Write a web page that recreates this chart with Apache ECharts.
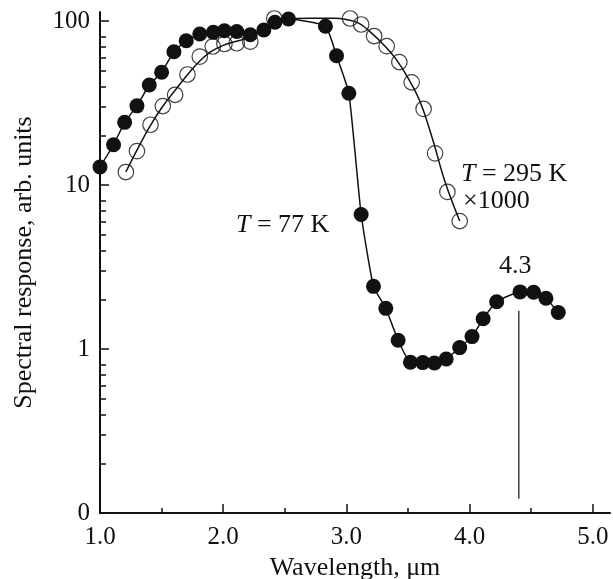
<!DOCTYPE html>
<html><head><meta charset="utf-8">
<script src="https://cdn.jsdelivr.net/npm/echarts@6/dist/echarts.min.js"></script>
<style>html,body{margin:0;padding:0;background:#fff}#c{width:613px;height:579px}</style>
</head><body><div id="c"></div>
<script>
// T = 77 K (filled circles)
const wl77 = [1.00,1.11,1.20,1.30,1.40,1.50,1.60,1.70,1.81,1.92,2.01,2.11,2.22,2.33,2.42,2.53,2.83,2.92,3.02,3.12,3.22,3.32,3.42,3.52,3.62,3.715,3.81,3.92,4.02,4.11,4.22,4.41,4.52,4.62,4.72];
const resp77 = [12.9,17.6,24.1,30.4,40.7,48.7,65.0,75.8,83.3,85.3,87.3,86.3,82.5,88.2,98.2,102.9,93.0,61.4,36.3,6.61,2.41,1.77,1.13,0.83,0.826,0.821,0.869,1.02,1.19,1.53,1.94,2.23,2.22,2.04,1.67];
// T = 295 K x1000 (open circles)
const wl295 = [1.21,1.30,1.41,1.51,1.61,1.71,1.81,1.915,2.01,2.11,2.22,2.415,3.03,3.12,3.225,3.327,3.43,3.53,3.627,3.72,3.82,3.92];
const resp295 = [12.0,16.1,23.3,30.3,35.5,47.2,60.7,69.9,72.4,73.2,74.8,103.6,103.6,95.2,81.0,70.2,56.2,42.3,29.1,15.6,9.07,6.03];
// smooth fit curve through the 295 K points
const fitWl295 = [1.21,1.30,1.40,1.50,1.60,1.70,1.80,1.90,2.00,2.10,2.20,2.30,2.40,2.50,2.70,2.90,3.00,3.10,3.20,3.30,3.40,3.50,3.60,3.70,3.80,3.92];
const fitResp295 = [12.0,16.3,22.5,29.5,37,46,56,65,71,75,79,88,98,102,104,104,102,97,85,72,59,45,32,19,10.5,6.03];
// 4.3 marker line
const peakLineWl = [4.4, 4.4];
const peakLineResp = [0.122, 1.71];
// axes ticks
const xMajorTicks = [1,2,3,4,5];
const xMinorTicks = [1.5,2.5,3.5,4.5];
const yMajorTicks = [0.1,1,10,100];
const yTickLabels = ['0','1','10','100'];
const yMinorTicks = [0.2,0.3,0.4,0.5,0.6,0.7,0.8,2,3,4,5,6,7,8,20,30,40,50,60,70,80];

const FONT = 'Liberation Serif';
const zip = (a,b) => a.map((v,i)=>[v,b[i]]);

const chart = echarts.init(document.getElementById('c'));
const xCommon = {type:'value', min:1, max:5.14, gridIndex:0, position:'bottom', splitLine:{show:false}};
const yCommon = {type:'log', logBase:10, min:0.1, max:113.5, gridIndex:0, position:'left', splitLine:{show:false}, minorTick:{show:false}};
const annot = (text, x, y) => ({type:'text', x:x, y:y, style:{text:text, verticalAlign:'middle', fill:'#111', font:'26px "Liberation Serif"',
  rich:{i:{fontFamily:FONT, fontSize:26, fontStyle:'italic', fill:'#111'}, n:{fontFamily:FONT, fontSize:26, fill:'#111'}}}});
chart.setOption({
  animation:false,
  backgroundColor:'#fff',
  grid:{left:100, right:3, top:12, bottom:66, containLabel:false, outerBoundsMode:'none'},
  xAxis:[
    Object.assign({}, xCommon, {
      name:'Wavelength, \u03bcm', nameLocation:'middle', nameGap:40,
      nameTextStyle:{fontFamily:FONT, fontSize:26, color:'#111'},
      axisLine:{show:true, lineStyle:{color:'#111', width:2}},
      axisTick:{show:true, inside:true, length:9, lineStyle:{color:'#111', width:1.5}, customValues:xMajorTicks},
      axisLabel:{show:true, margin:12, fontFamily:FONT, fontSize:25, color:'#111', customValues:xMajorTicks, formatter:v=>Number(v).toFixed(1)}
    }),
    Object.assign({}, xCommon, {
      axisLine:{show:false}, axisLabel:{show:false},
      axisTick:{show:true, inside:true, length:5, lineStyle:{color:'#111', width:1.5}, customValues:xMinorTicks}
    })
  ],
  yAxis:[
    Object.assign({}, yCommon, {
      name:'Spectral response, arb. units', nameLocation:'middle', nameGap:63,
      nameTextStyle:{fontFamily:FONT, fontSize:26, color:'#111'},
      axisLine:{show:true, lineStyle:{color:'#111', width:2}},
      axisTick:{show:true, inside:true, length:9, lineStyle:{color:'#111', width:1.5}, customValues:yMajorTicks},
      axisLabel:{show:true, margin:10, fontFamily:FONT, fontSize:25, color:'#111', customValues:yMajorTicks,
        formatter:v=>{const i=yMajorTicks.findIndex(t=>Math.abs(Math.log10(t)-Math.log10(v))<1e-6); return i>=0?yTickLabels[i]:'';}}
    }),
    Object.assign({}, yCommon, {
      axisLine:{show:false}, axisLabel:{show:false},
      axisTick:{show:true, inside:true, length:6, lineStyle:{color:'#111', width:1.5}, customValues:yMinorTicks}
    })
  ],
  series:[
    {type:'line', name:'fit295', data:zip(fitWl295, fitResp295), smooth:0.4, symbol:'none', clip:false,
     lineStyle:{color:'#111', width:1.5}, z:2},
    {type:'scatter', name:'T295', data:zip(wl295, resp295), symbol:'circle', symbolSize:15.5, clip:false,
     itemStyle:{color:'rgba(255,255,255,0)', borderColor:'#111', borderWidth:1.2}, z:3},
    {type:'line', name:'T77', data:zip(wl77, resp77), smooth:0.15, symbol:'circle', symbolSize:15, showAllSymbol:true, clip:false,
     lineStyle:{color:'#111', width:1.5}, itemStyle:{color:'#111', borderWidth:0}, z:4},
    {type:'line', name:'peak', data:zip(peakLineWl, peakLineResp), symbol:'none', clip:false,
     lineStyle:{color:'#111', width:1.2}, z:2}
  ],
  graphic:[
    annot('{i|T}{n| = 77 K}', 236, 225.5),
    annot('{i|T}{n| = 295 K}', 461, 174.5),
    annot('{n|\u00d71000}', 463, 201.5),
    annot('{n|4.3}', 499, 265.7)
  ]
});
</script></body></html>
